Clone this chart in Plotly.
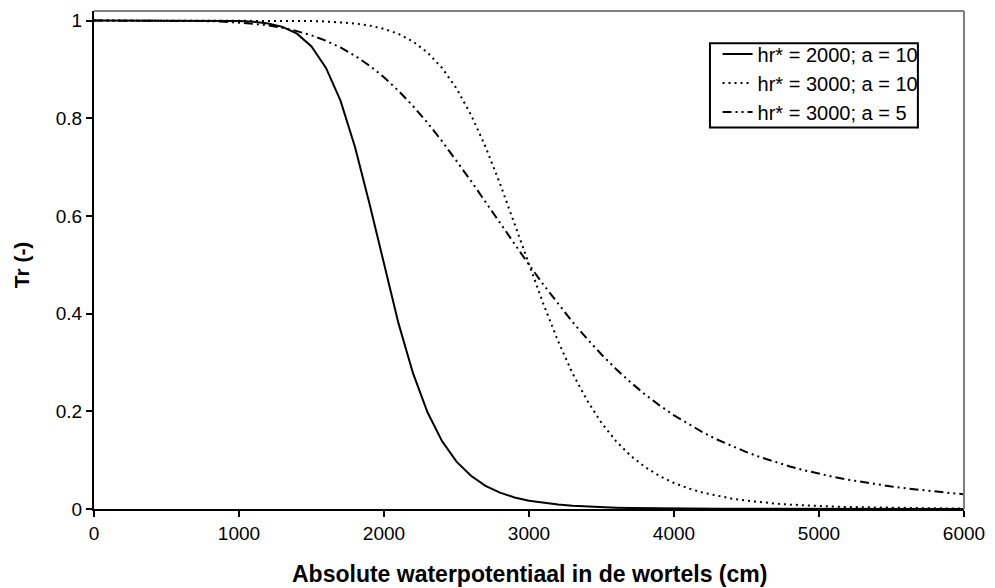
import plotly.graph_objects as go

h = list(range(0, 6001, 100))

tr_2000_a10 = [
    1.0, 1.0, 1.0, 1.0, 1.0, 1.0, 1.0, 1.0, 1.0, 0.9997,
    0.999, 0.9975, 0.994, 0.987, 0.973, 0.947, 0.903, 0.836, 0.741, 0.625,
    0.5, 0.380, 0.278, 0.198, 0.139, 0.097, 0.068, 0.0474, 0.0334, 0.0237,
    0.0170, 0.0123, 0.0090, 0.0066, 0.0049, 0.0037, 0.0028, 0.0021, 0.0016, 0.0013,
    0.0010, 0.0008, 0.0006, 0.0005, 0.0004, 0.0003, 0.0002, 0.0002, 0.0002, 0.0001,
    0.0001, 0.0001, 0.0001, 0.0001, 0.0001, 0.0, 0.0, 0.0, 0.0, 0.0,
    0.0,
]

tr_3000_a10 = [
    1.0, 1.0, 1.0, 1.0, 1.0, 1.0, 1.0, 1.0, 1.0, 1.0,
    1.0, 1.0, 0.9999, 0.9998, 0.9995, 0.999, 0.998, 0.9966, 0.994, 0.9897,
    0.983, 0.9725, 0.957, 0.9345, 0.903, 0.861, 0.807, 0.7415, 0.666, 0.584,
    0.5, 0.419, 0.344, 0.278, 0.2226, 0.1763, 0.139, 0.1092, 0.086, 0.0676,
    0.0533, 0.0422, 0.0334, 0.0266, 0.0212, 0.0171, 0.0137, 0.0111, 0.009, 0.0073,
    0.006, 0.0049, 0.0041, 0.0034, 0.0028, 0.0023, 0.0019, 0.0016, 0.0014, 0.0012,
    0.001,
]

tr_3000_a5 = [
    1.0, 1.0, 1.0, 1.0, 1.0, 0.9999, 0.9997, 0.9993, 0.9987, 0.9976,
    0.9959, 0.9934, 0.9899, 0.985, 0.9783, 0.9697, 0.9586, 0.9449, 0.9278, 0.9076,
    0.8837, 0.8561, 0.825, 0.7906, 0.7532, 0.7133, 0.6716, 0.6287, 0.5854, 0.5423,
    0.5, 0.4591, 0.42, 0.383, 0.3486, 0.3163, 0.2867, 0.2594, 0.2347, 0.2122,
    0.1918, 0.1735, 0.1568, 0.1418, 0.1285, 0.1164, 0.1056, 0.0958, 0.0871, 0.0792,
    0.0722, 0.0658, 0.0601, 0.0549, 0.0503, 0.046, 0.0422, 0.0388, 0.0357, 0.0329,
    0.0303,
]

series_names = ["hr* = 2000; a = 10", "hr* = 3000; a = 10", "hr* = 3000; a = 5"]
x_ticks = [0, 1000, 2000, 3000, 4000, 5000, 6000]
y_ticks = [0, 0.2, 0.4, 0.6, 0.8, 1]

FONT = "Liberation Sans, Arial, sans-serif"

fig = go.Figure()
fig.add_trace(go.Scatter(x=h, y=tr_2000_a10, mode="lines", name=series_names[0],
                         line=dict(color="black", width=2, dash="solid")))
fig.add_trace(go.Scatter(x=h, y=tr_3000_a10, mode="lines", name=series_names[1],
                         line=dict(color="black", width=2, dash="2px,4px")))
fig.add_trace(go.Scatter(x=h, y=tr_3000_a5, mode="lines", name=series_names[2],
                         line=dict(color="black", width=2, dash="9px,4px,2px,4px,2px,4px")))

fig.update_layout(
    width=995, height=588,
    margin=dict(l=94, r=27, t=10, b=79),
    paper_bgcolor="white", plot_bgcolor="white",
    font=dict(family=FONT, size=19, color="black"),
    showlegend=True,
    legend=dict(x=0.7167, y=0.953, xanchor="left", yanchor="top",
                bgcolor="rgba(0,0,0,0)", borderwidth=0,
                font=dict(family=FONT, size=20, color="black"),
                tracegroupgap=0, itemwidth=30),
    xaxis=dict(range=[0, 6000], tickvals=x_ticks, ticks="outside", ticklen=6,
               tickwidth=2, tickcolor="black", showline=True, linecolor="black",
               linewidth=2, showgrid=False, zeroline=False,
               tickfont=dict(family=FONT, size=19, color="black")),
    yaxis=dict(range=[0, 1.0195], tickvals=y_ticks, ticks="outside", ticklen=6,
               tickwidth=2, tickcolor="black", showline=True, linecolor="black",
               linewidth=2, showgrid=False, zeroline=False,
               tickfont=dict(family=FONT, size=19, color="black")),
    shapes=[
        dict(type="line", xref="paper", yref="paper", x0=0, x1=1, y0=1, y1=1,
             line=dict(color="#808080", width=2)),
        dict(type="line", xref="paper", yref="paper", x0=1, x1=1, y0=0, y1=1,
             line=dict(color="#808080", width=2)),
        dict(type="rect", xref="paper", yref="paper", x0=0.708, x1=0.947,
             y0=0.766, y1=0.935, layer="above", fillcolor="white",
             line=dict(color="black", width=2)),
    ],
    annotations=[
        dict(text="<b>Absolute waterpotentiaal in de wortels (cm)</b>", xref="paper", yref="paper",
             x=0.5, y=-0.13, xanchor="center", yanchor="middle", showarrow=False,
             font=dict(family=FONT, size=23, color="black")),
        dict(text="<b>Tr (-)</b>", xref="paper", yref="paper",
             x=-0.0824, y=0.49, xanchor="center", yanchor="middle", showarrow=False,
             textangle=-90, font=dict(family=FONT, size=21, color="black")),
    ],
)

fig.write_html("out.html")
